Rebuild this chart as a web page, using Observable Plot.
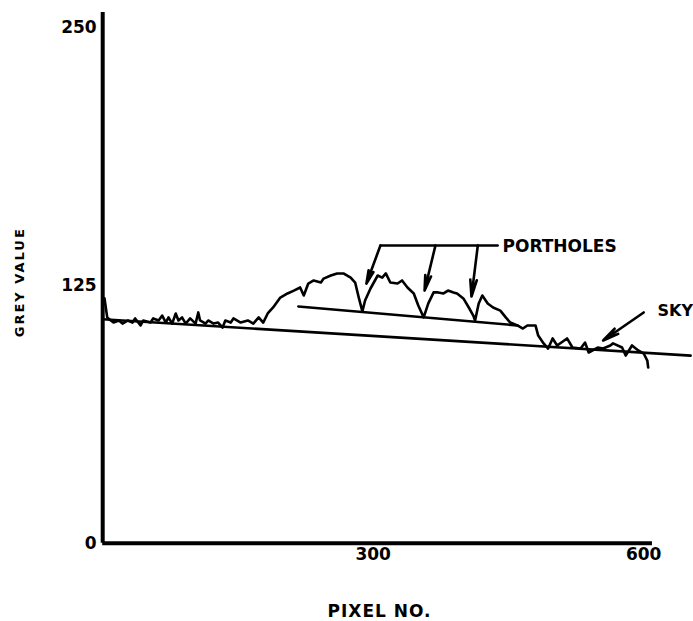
<!DOCTYPE html>
<html><head><meta charset="utf-8">
<script src="https://cdn.jsdelivr.net/npm/d3@7"></script>
<script src="https://cdn.jsdelivr.net/npm/@observablehq/plot@0.6"></script>
<style>
html,body{margin:0;padding:0;background:#fff;}
#chart svg{display:block;}
</style></head><body><div id="chart"></div>
<script>
// Trace: pixel number vs grey value
const pixelNo = [2,5,9,12,18,22,28,33,36,42,45,53,56,62,66,70,73,77,81,84,88,92,97,103,106,108,114,117,123,128,133,136,142,145,153,161,167,173,178,183,189,197,205,212,219,223,228,234,242,245,253,260,267,275,280,284,288,291,297,305,310,314,319,327,332,338,345,350,356,361,367,372,378,383,389,393,400,406,411,413,417,421,427,433,441,447,452,460,466,471,480,483,489,494,499,504,515,521,530,535,539,549,555,563,566,576,580,587,594,600,604,605];
const greyValue = [118.6,109.4,107.9,106.9,107.9,106.4,107.9,106.9,108.9,105.5,107.9,106.9,108.9,107.9,110.3,106.9,109.4,106.4,111.3,107.9,109.4,106.4,108.9,106.4,111.8,107.9,106.4,107.9,106.4,106.9,104.5,107.9,106.9,108.9,106.9,107.9,106.4,109.4,106.9,111.3,114.2,119.0,121.0,122.4,123.9,120.0,125.8,127.3,126.3,128.2,129.7,130.7,130.7,128.7,126.3,119.0,112.3,117.6,123.4,129.7,128.7,130.7,126.3,125.8,127.3,123.9,121.0,115.2,109.4,116.1,121.5,121.5,121.0,122.4,121.5,121.0,118.6,114.2,110.3,107.9,116.1,120.0,116.1,114.2,112.7,109.4,106.9,105.5,104.0,105.5,105.5,100.6,96.8,94.3,99.2,95.8,99.2,94.8,94.3,97.2,92.4,94.8,94.3,95.8,96.8,94.8,90.9,95.8,93.4,91.9,88.5,85.1];

// Baselines
const skyLineX = [0, 652];
const skyLineY = [108.5, 90.9];
const portholeLineX = [217, 460];
const portholeLineY = [114.7, 105.5];

// Annotation bracket and arrows
const bracketX = [308, 438];
const bracketY = [144.2, 144.2];
const arrowX1 = [308, 369, 416, 600];
const arrowY1 = [144.2, 144.2, 144.2, 111.8];
const arrowX2 = [292.5, 357, 409, 555];
const arrowY2 = [125.8, 122.4, 119.5, 98.2];
const labelText = ["PORTHOLES", "SKY"];
const labelX = [443.4, 615.3];
const labelY = [143.5, 112.7];

// Axes
const yTicks = [0, 125, 250];
const xTicks = [300, 600];
const xAxisEnd = 609.7;
const yAxisTop = 257.1;

const trace = pixelNo.map((x, i) => ({x, y: greyValue[i]}));
const toPts = (xs, ys) => xs.map((x, i) => ({x, y: ys[i]}));
const arrows = arrowX1.map((x1, i) => ({x1, y1: arrowY1[i], x2: arrowX2[i], y2: arrowY2[i]}));
const labels = labelText.map((t, i) => ({t, x: labelX[i], y: labelY[i]}));

const font = "DejaVu Sans";
const chart = Plot.plot({
  width: 693, height: 621,
  marginLeft: 102.2, marginRight: 49.8, marginTop: 26.7, marginBottom: 78.3,
  style: {fontFamily: font, fontWeight: "bold", background: "#fff", color: "#000"},
  x: {type: "linear", domain: [0, 600]},
  y: {type: "linear", domain: [0, 250]},
  marks: [
    Plot.ruleX([0], {y1: 0, y2: yAxisTop, stroke: "#000", strokeWidth: 4}),
    Plot.ruleY([0], {x1: 0, x2: xAxisEnd, stroke: "#000", strokeWidth: 4}),
    Plot.axisY(yTicks, {tickSize: 0, tickPadding: 6, fontSize: 17, fontWeight: "bold", fontFamily: font, label: null}),
    Plot.axisX(xTicks, {tickSize: 0, tickPadding: 5, fontSize: 17, fontWeight: "bold", fontFamily: font, label: null}),
    Plot.line(toPts(skyLineX, skyLineY), {x: "x", y: "y", stroke: "#000", strokeWidth: 2.6}),
    Plot.line(toPts(portholeLineX, portholeLineY), {x: "x", y: "y", stroke: "#000", strokeWidth: 2.6}),
    Plot.line(trace, {x: "x", y: "y", stroke: "#000", strokeWidth: 2.6}),
    Plot.line(toPts(bracketX, bracketY), {x: "x", y: "y", stroke: "#000", strokeWidth: 2.6}),
    Plot.arrow(arrows, {x1: "x1", y1: "y1", x2: "x2", y2: "y2", stroke: "#000", strokeWidth: 2.6, headLength: 13, headAngle: 22}),
    Plot.text(labels, {x: "x", y: "y", text: "t", textAnchor: "start", fontSize: 17, fontWeight: "bold", fontFamily: font, fill: "#000"}),
    Plot.text(["GREY VALUE"], {frameAnchor: "left", dx: -83, dy: -3, rotate: -90, fontSize: 13, fontWeight: "bold", fontFamily: font, fill: "#000", textAnchor: "middle", lineAnchor: "middle"}),
    Plot.text(["PIXEL NO."], {frameAnchor: "bottom", dx: 6.3, dy: 68.3, fontSize: 17, fontWeight: "bold", fontFamily: font, fill: "#000", lineAnchor: "middle"})
  ]
});
document.getElementById("chart").appendChild(chart);
d3.select(chart).selectAll("text").filter(function(){ return this.textContent === "GREY VALUE"; }).attr("letter-spacing", 2);
d3.select(chart).selectAll("text").filter(function(){ return this.textContent === "SKY"; }).attr("font-size", 16);
d3.select(chart).selectAll("text").filter(function(){ return this.textContent === "PIXEL NO."; }).attr("letter-spacing", 1);
</script></body></html>
